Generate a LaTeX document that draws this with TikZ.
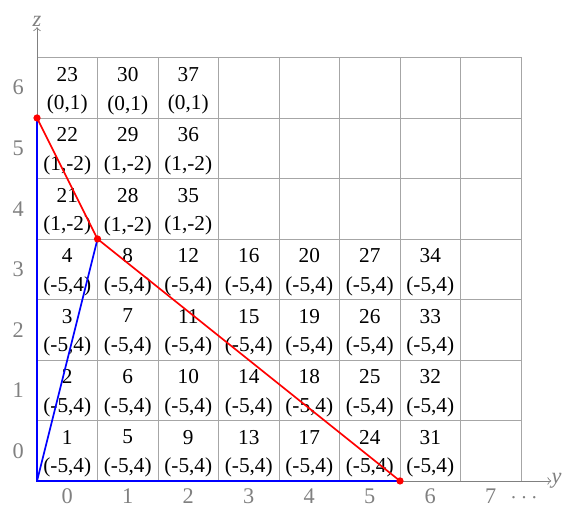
\documentclass[tikz,border=0pt]{standalone}
\usepackage{fontspec}
\setmainfont{Liberation Serif}
\usetikzlibrary{positioning}
\begin{document}
\begin{tikzpicture}[x=1cm,y=1cm,
  cell/.style={align=center, font=\fontsize{10}{13.6}\selectfont, inner sep=0pt},
  axlab/.style={text=gray, font=\fontsize{10.5}{13}\selectfont, inner sep=0pt}]
  \useasboundingbox (-0.612,-0.413) rectangle (8.777,7.95);

  % Grid
  \draw[gray!70] (0,0) grid (8,7);

  % Axes
  \coordinate (O) at (0,0);
  \coordinate (zend) at (0,7.5);
  \coordinate (yend) at (8.5,0);
  \draw[gray,->] (O) -- (zend) node[above, inner sep=3pt, axlab] (zname) {\textit{z}};
  \draw[gray,->] (O) -- (yend) node[right, inner sep=2pt, axlab] (yname) {\textit{y}};
  \foreach \i in {0,...,7}
    \node[axlab, anchor=base] (ylab\i) at (\i+0.5,-0.37) {\i};
  \node[axlab, anchor=base] (ydots) at (8.05,-0.37) {$\cdots$};
  \foreach \k in {0,...,6}
    \node[axlab] (zlab\k) at (-0.31,\k+0.5) {\k};

  % Cell entries
  \foreach \c/\r/\n/\t in {
      0/0/1/{(-5,4)}, 0/1/2/{(-5,4)}, 0/2/3/{(-5,4)}, 0/3/4/{(-5,4)},
      0/4/21/{(1,-2)}, 0/5/22/{(1,-2)}, 0/6/23/{(0,1)},
      1/0/5/{(-5,4)}, 1/1/6/{(-5,4)}, 1/2/7/{(-5,4)}, 1/3/8/{(-5,4)},
      1/4/28/{(1,-2)}, 1/5/29/{(1,-2)}, 1/6/30/{(0,1)},
      2/0/9/{(-5,4)}, 2/1/10/{(-5,4)}, 2/2/11/{(-5,4)}, 2/3/12/{(-5,4)},
      2/4/35/{(1,-2)}, 2/5/36/{(1,-2)}, 2/6/37/{(0,1)},
      3/0/13/{(-5,4)}, 3/1/14/{(-5,4)}, 3/2/15/{(-5,4)}, 3/3/16/{(-5,4)},
      4/0/17/{(-5,4)}, 4/1/18/{(-5,4)}, 4/2/19/{(-5,4)}, 4/3/20/{(-5,4)},
      5/0/24/{(-5,4)}, 5/1/25/{(-5,4)}, 5/2/26/{(-5,4)}, 5/3/27/{(-5,4)},
      6/0/31/{(-5,4)}, 6/1/32/{(-5,4)}, 6/2/33/{(-5,4)}, 6/3/34/{(-5,4)}}
    \node[cell] (c\c\r) at (\c+0.5,\r+0.45) {\n\\\t};

  % Hull
  \coordinate (p1) at (0,6);
  \coordinate (p2) at (1,4);
  \coordinate (p3) at (6,0);
  \draw[blue, thick] (p1) -- (O) -- (p3);
  \draw[blue, thick] (O) -- (p2);
  \draw[red, thick] (p1) -- (p2) -- (p3);
  \foreach \p in {p1,p2,p3}
    \fill[red] (\p) circle (0.06);
\end{tikzpicture}
\end{document}
